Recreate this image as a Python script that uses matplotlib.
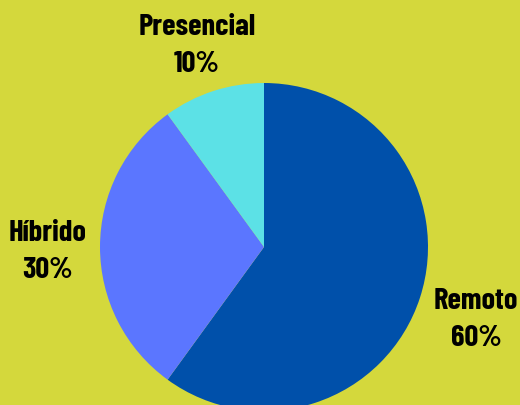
import matplotlib
matplotlib.use("Agg")
import matplotlib.pyplot as plt

categories = ["Remoto", "Híbrido", "Presencial"]
values = [60, 30, 10]
colors = ["#0050AA", "#5B76FF", "#5CE1E6"]
bg = "#D4D83C"

W, H = 520, 406
fig = plt.figure(figsize=(W / 100, H / 100), dpi=100, facecolor=bg)
ax = fig.add_axes([0, 0, 1, 1])
ax.set_facecolor(bg)

ax.pie(values, colors=colors, startangle=90, counterclock=False,
       center=(264, H - 248), radius=164, frame=True,
       wedgeprops=dict(linewidth=0))
ax.set_xlim(0, W)
ax.set_ylim(0, H)
ax.set_aspect("equal")
ax.axis("off")

label_pos = {"Presencial": (197, 46), "Híbrido": (48, 252), "Remoto": (476, 320)}
font = dict(family=["Barlow Condensed", "DejaVu Sans"], fontweight=700,
            fontsize=22, color="black", ha="center", va="center", linespacing=1.5)
for cat, val in zip(categories, values):
    x, y = label_pos[cat]
    ax.text(x, H - y, f"{cat}\n{val}%", **font)

fig.savefig("out.png", dpi=100, facecolor=bg)
